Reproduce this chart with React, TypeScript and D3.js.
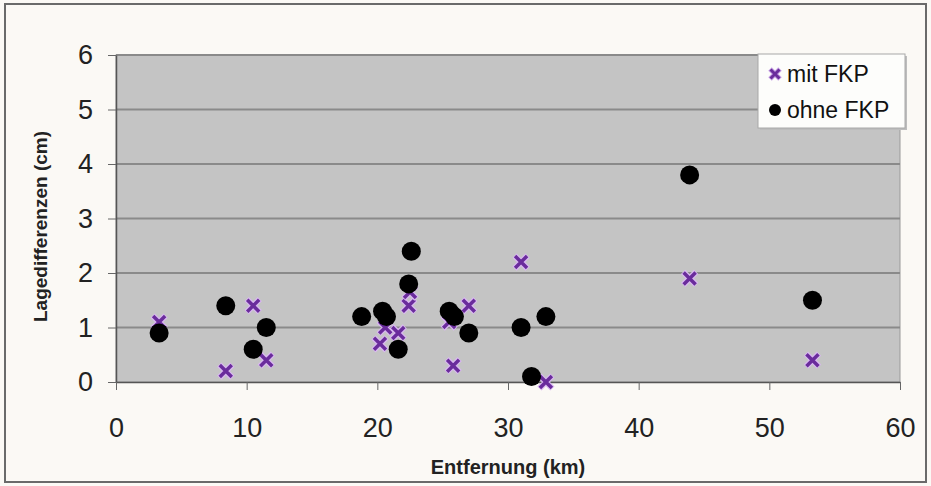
import * as d3 from "d3";
import React, { useEffect, useRef } from "react";

// Entfernung (km), Lagedifferenz (cm)
const mitFkp: Array<[number, number]> = [
    [3.3, 1.1], [8.4, 0.2], [10.5, 1.4], [11.5, 0.4],
    [20.2, 0.7], [20.6, 1.0], [21.6, 0.9], [22.4, 1.4], [22.5, 1.65],
    [25.5, 1.1], [25.8, 0.3], [27.0, 1.4], [31.0, 2.2], [32.9, 0.0],
    [43.9, 1.9], [53.3, 0.4],
];
const ohneFkp: Array<[number, number]> = [
    [3.3, 0.9], [8.4, 1.4], [10.5, 0.6], [11.5, 1.0], [18.8, 1.2],
    [20.4, 1.3], [20.7, 1.2], [21.6, 0.6], [22.4, 1.8], [22.6, 2.4],
    [25.5, 1.3], [25.9, 1.2], [27.0, 0.9], [31.0, 1.0], [31.8, 0.1],
    [32.9, 1.2], [43.9, 3.8], [53.3, 1.5],
];
const xTicks = [0, 10, 20, 30, 40, 50, 60];
const yTicks = [0, 1, 2, 3, 4, 5, 6];
const seriesNames = ["mit FKP", "ohne FKP"];
const xTitle = "Entfernung (km)";
const yTitle = "Lagedifferenzen (cm)";

const width = 931;
const height = 486;
const plot = { left: 116, right: 900, top: 55, bottom: 382 };
const font = "'Liberation Sans', Arial, sans-serif";

const App: React.FC = () => {
    const wrapper = useRef<SVGSVGElement>(null);

    useEffect(() => {
        if (!wrapper.current) return;
        const svg = d3.select(wrapper.current);
        svg.selectAll("*").remove();

        const x = d3.scaleLinear().domain([0, 60]).range([plot.left, plot.right]);
        const y = d3.scaleLinear().domain([0, 6]).range([plot.bottom, plot.top]);
        const fmt = d3.format("d");

        // page + frame
        svg.append("rect").attr("width", width).attr("height", height).attr("fill", "#fbf9f5");
        svg.append("rect")
            .attr("x", 5).attr("y", 4).attr("width", 921).attr("height", 478)
            .attr("fill", "none").attr("stroke", "#6a6a6a").attr("stroke-width", 2);

        // plot area
        svg.append("rect")
            .attr("x", plot.left).attr("y", plot.top)
            .attr("width", plot.right - plot.left).attr("height", plot.bottom - plot.top)
            .attr("fill", "#c4c4c4").attr("stroke", "#9a9a9a").attr("stroke-width", 1);

        svg.append("g")
            .selectAll("line")
            .data(yTicks.slice(1))
            .join("line")
            .attr("x1", plot.left).attr("x2", plot.right)
            .attr("y1", (d) => y(d)).attr("y2", (d) => y(d))
            .attr("stroke", "#8a8a8a").attr("stroke-width", 2);

        // axes
        const yAxis = svg.append("g")
            .attr("transform", `translate(${plot.left},0)`)
            .call(d3.axisLeft(y).tickValues(yTicks).tickFormat(fmt).tickSize(8).tickPadding(15).tickSizeOuter(0));
        const xAxis = svg.append("g")
            .attr("transform", `translate(0,${plot.bottom})`)
            .call(d3.axisBottom(x).tickValues(xTicks).tickFormat(fmt).tickSize(8).tickPadding(30).tickSizeOuter(0));

        [yAxis, xAxis].forEach((ax) => {
            ax.select(".domain").attr("stroke", "#555").attr("stroke-width", 1.5);
            ax.selectAll(".tick line").attr("stroke", "#666");
            ax.selectAll(".tick text")
                .attr("fill", "#222")
                .style("font-family", font)
                .style("font-size", "27px");
        });
        xAxis.selectAll(".tick text").attr("dy", 0).attr("y", 55);

        svg.append("text")
            .attr("x", (plot.left + plot.right) / 2).attr("y", 474)
            .attr("text-anchor", "middle")
            .style("font-family", font).style("font-size", "20px").style("font-weight", "bold")
            .attr("fill", "#222")
            .text(xTitle);

        svg.append("text")
            .attr("transform", `translate(47,${(plot.top + plot.bottom) / 2 + 8}) rotate(-90)`)
            .attr("text-anchor", "middle")
            .style("font-family", font).style("font-size", "19px").style("font-weight", "bold")
            .attr("fill", "#222")
            .text(yTitle);

        // markers
        const cross = (g: d3.Selection<SVGGElement, unknown, null, undefined>, s: number, w: number, col: string) => {
            g.append("path")
                .attr("d", `M${-s},${-s}L${s},${s}M${-s},${s}L${s},${-s}`)
                .attr("stroke", col).attr("stroke-width", w).attr("fill", "none");
        };

        const crosses = svg.append("g");
        mitFkp.forEach((d) => {
            const g = crosses.append("g").attr("transform", `translate(${x(d[0])},${y(d[1])})`);
            cross(g, 6.5, 6, "#d9b8f0");
            cross(g, 6, 3.5, "#6a2c9c");
        });

        svg.append("g")
            .selectAll("circle")
            .data(ohneFkp)
            .join("circle")
            .attr("cx", (d) => x(d[0]))
            .attr("cy", (d) => y(d[1]))
            .attr("r", 9.5)
            .attr("fill", "#000");

        // legend
        const legend = svg.append("g").attr("transform", "translate(758,54)");
        legend.append("rect")
            .attr("x", 2).attr("y", 2).attr("width", 147).attr("height", 74)
            .attr("fill", "#bdbdbd");
        legend.append("rect")
            .attr("width", 147).attr("height", 74)
            .attr("fill", "#fdfdfb").attr("stroke", "#a8a8a8").attr("stroke-width", 1);
        const lg = legend.append("g").attr("transform", "translate(17,20)");
        cross(lg, 5, 5, "#c9a6e6");
        cross(lg, 4.5, 3, "#6a2c9c");
        legend.append("circle").attr("cx", 17).attr("cy", 56).attr("r", 6).attr("fill", "#000");
        legend.selectAll("text.lbl")
            .data(seriesNames)
            .join("text")
            .attr("class", "lbl")
            .attr("x", 29)
            .attr("y", (_, i) => 28 + i * 36)
            .style("font-family", font).style("font-size", "23px")
            .attr("fill", "#111")
            .text((d) => d);
    }, []);

    return (
        <svg
            ref={wrapper}
            width={width}
            height={height}
            viewBox={`0 0 ${width} ${height}`}
            style={{ position: "absolute", left: 0, top: 0 }}
        />
    );
};

export default App;
